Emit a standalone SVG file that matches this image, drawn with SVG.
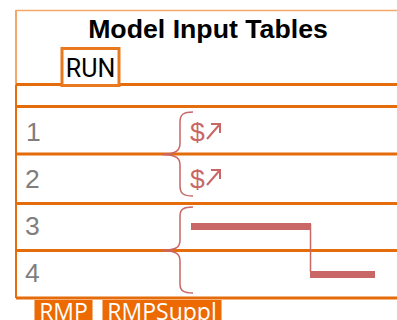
<svg xmlns="http://www.w3.org/2000/svg" width="397" height="320" viewBox="0 0 397 320">
<style>
.rule{stroke:#e46c0a;stroke-width:3;fill:none}
.num{font:26.500px "Liberation Sans",Arial,sans-serif;fill:#7f7f7f}
.brace{fill:none;stroke:#c96666;stroke-width:1.5}
.bar{fill:#c96666}
.tag{fill:#ed6a02;stroke:#f6b27c;stroke-width:1}
.tagt{font:23px "Open Sans",sans-serif;fill:#fff}
.sym{font:26.500px "Liberation Sans",Arial,sans-serif;fill:#c96666}
.arrow{fill:none;stroke:#c96666;stroke-width:2}
</style>
<rect width="397" height="320" fill="#fff"/>
<g id="table">
<path d="M16 10.500H397" fill="none" stroke="#f4a868" stroke-width="1.500"/>
<path d="M16 10V85" fill="none" stroke="#f4a868" stroke-width="2"/>
<path d="M16 85V298" fill="none" stroke="#e46c0a" stroke-width="2"/>
<path class="rule" d="M16 84.500H397M16 106.500H397M16 154H397M16 203.500H397M16 250.500H397M16 298H397"/>
</g>
<g id="title"><text x="208" y="38" text-anchor="middle" font-family="Liberation Sans,Arial,sans-serif" font-size="26.700" font-weight="700" fill="#000">Model Input Tables</text></g>
<g id="run">
<rect x="62" y="48.500" width="57" height="37" fill="#fff" stroke="#e8791f" stroke-width="3"/>
<text x="90.500" y="77" text-anchor="middle" font-family="Roboto,sans-serif" font-size="25" fill="#000">RUN</text>
</g>
<g id="row1"><text class="num" x="26" y="141">1</text></g>
<g id="row2"><text class="num" x="25" y="188">2</text></g>
<g id="row3"><text class="num" x="25" y="235">3</text></g>
<g id="row4"><text class="num" x="25" y="282">4</text></g>
<g id="connectors">
<path class="brace" d="M193 112C184 112 180 114 180 122V143C180 150 177 154 162 154.500M162 154.500C177 155 180 158 180 165V186C180 194 184 196 193 196"/>
<path class="brace" d="M193 207C184 207 180 209 180 216V240C180 247 177 250 162 250.500M162 250.500C177 251 180 254 180 261V284C180 291 184 293 193 293"/>
<path class="bar" d="M191 223H311V230H191ZM310 271H375V278H310Z"/>
<path d="M310.500 224V272" fill="none" stroke="#c96666" stroke-width="1.500"/>
</g>
<g id="sym1">
<text class="sym" x="190" y="141">$</text>
<path class="arrow" d="M207 139L220 124M211 124H220V133"/>
</g>
<g id="sym2">
<text class="sym" x="190" y="188">$</text>
<path class="arrow" d="M207 185L220 170M211 170H220V179"/>
</g>
<g id="tag-rmp">
<rect class="tag" x="34.500" y="299.500" width="58" height="22"/>
<text class="tagt" x="63.500" y="319.500" text-anchor="middle">RMP</text>
</g>
<g id="tag-rmpsuppl">
<rect class="tag" x="102.500" y="299.500" width="119" height="22"/>
<text class="tagt" x="162" y="319.500" text-anchor="middle">RMPSuppl</text>
</g>
</svg>
